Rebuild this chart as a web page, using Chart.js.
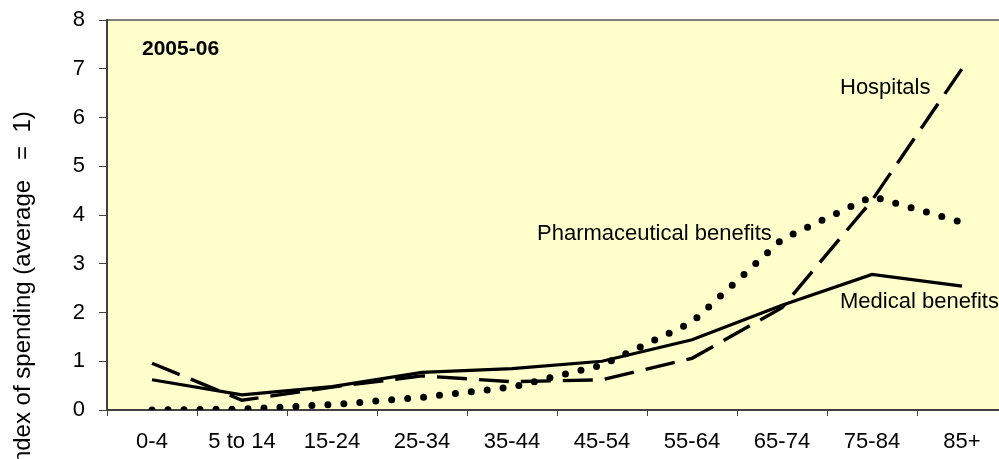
<!DOCTYPE html>
<html>
<head>
<meta charset="utf-8">
<script src="https://cdn.jsdelivr.net/npm/chart.js@4.4.0/dist/chart.umd.min.js"></script>
<style>
  html, body { margin: 0; padding: 0; background: #fff; overflow: hidden; }
  #wrap { position: relative; width: 1010px; height: 459px; }
</style>
</head>
<body>
<div id="wrap"><canvas id="spendChart"></canvas></div>
<script>
// age groups and spending index per series
const ageGroups = ['0-4', '5 to 14', '15-24', '25-34', '35-44', '45-54', '55-64', '65-74', '75-84', '85+'];
const medicalBenefits = [0.62, 0.31, 0.48, 0.77, 0.85, 1.0, 1.44, 2.15, 2.78, 2.54];
const hospitals = [0.96, 0.2, 0.47, 0.7, 0.58, 0.62, 1.06, 2.1, 4.3, 7.0];
const pharmaBenefits = [0.0, 0.02, 0.11, 0.26, 0.47, 0.92, 1.8, 3.5, 4.38, 3.85];
const yTicks = [0, 1, 2, 3, 4, 5, 6, 7, 8];

const FONT = '"Liberation Sans", Arial, sans-serif';
const AXIS_COLOR = '#404040';

// yellow plot background plus the grey top border
const plotBackground = {
  id: 'plotBackground',
  beforeDraw(chart) {
    const { ctx, chartArea: a } = chart;
    ctx.save();
    ctx.fillStyle = '#FFFFCC';
    ctx.fillRect(a.left, a.top, a.right - a.left, a.bottom - a.top);
    ctx.strokeStyle = '#808080';
    ctx.lineWidth = 2;
    ctx.beginPath();
    ctx.moveTo(a.left, a.top);
    ctx.lineTo(a.right, a.top);
    ctx.stroke();
    ctx.restore();
  }
};

// series labels, the period tag and the rotated y title
const annotations = {
  id: 'annotations',
  afterDraw(chart) {
    const ctx = chart.ctx;
    ctx.save();
    ctx.fillStyle = '#000';
    ctx.textAlign = 'left';
    ctx.textBaseline = 'alphabetic';
    ctx.font = 'bold 21px ' + FONT;
    ctx.fillText('2005-06', 142, 55);
    ctx.font = '22px ' + FONT;
    ctx.fillText('Hospitals', 840, 94);
    ctx.fillText('Pharmaceutical benefits', 537, 240);
    ctx.fillText('Medical benefits', 840, 308);

    ctx.translate(23, 291);
    ctx.rotate(-Math.PI / 2);
    ctx.textAlign = 'center';
    ctx.textBaseline = 'middle';
    ctx.font = '24px ' + FONT;
    ctx.fillText('Index of spending (average   =  1)', 0, 0);
    ctx.restore();
  }
};

const ctx = document.getElementById('spendChart').getContext('2d');
new Chart(ctx, {
  type: 'line',
  data: {
    labels: ageGroups,
    datasets: [
      {
        label: 'Medical benefits',
        data: medicalBenefits,
        borderColor: '#000',
        borderWidth: 3.2,
        pointRadius: 0,
        tension: 0,
        fill: false
      },
      {
        label: 'Hospitals',
        data: hospitals,
        borderColor: '#000',
        borderWidth: 3.4,
        borderDash: [30, 12],
        borderCapStyle: 'butt',
        pointRadius: 0,
        tension: 0,
        fill: false
      },
      {
        label: 'Pharmaceutical benefits',
        data: pharmaBenefits,
        borderColor: '#000',
        borderWidth: 7,
        borderDash: [0, 16],
        borderCapStyle: 'round',
        pointRadius: 0,
        tension: 0,
        fill: false
      }
    ]
  },
  options: {
    responsive: true,
    maintainAspectRatio: false,
    animation: false,
    devicePixelRatio: 1,
    layout: { padding: { top: 20, right: 3, left: 0, bottom: 0 } },
    plugins: {
      legend: { display: false },
      tooltip: { enabled: false },
      title: { display: false }
    },
    scales: {
      x: {
        type: 'category',
        offset: true,
        grid: {
          offset: true,
          drawOnChartArea: false,
          drawTicks: true,
          tickLength: 6,
          color: AXIS_COLOR,
          lineWidth: 1
        },
        border: { display: true, color: AXIS_COLOR, width: 2 },
        ticks: {
          color: '#000',
          font: { family: FONT, size: 22 },
          padding: 13,
          maxRotation: 0,
          autoSkip: false
        },
        afterFit(scale) {
          scale.height = 49;
          scale.paddingLeft = 0;
          scale.paddingRight = 0;
        }
      },
      y: {
        min: 0,
        max: 8,
        afterBuildTicks(scale) { scale.ticks = yTicks.map(v => ({ value: v })); },
        grid: {
          drawOnChartArea: false,
          drawTicks: true,
          tickLength: 8,
          color: AXIS_COLOR,
          lineWidth: 1
        },
        border: { display: true, color: AXIS_COLOR, width: 2 },
        ticks: {
          color: '#000',
          font: { family: FONT, size: 22 },
          padding: 14
        },
        afterFit(scale) {
          scale.width = 107;
          scale.paddingTop = 0;
          scale.paddingBottom = 0;
        }
      }
    }
  },
  plugins: [plotBackground, annotations]
});
</script>
</body>
</html>
